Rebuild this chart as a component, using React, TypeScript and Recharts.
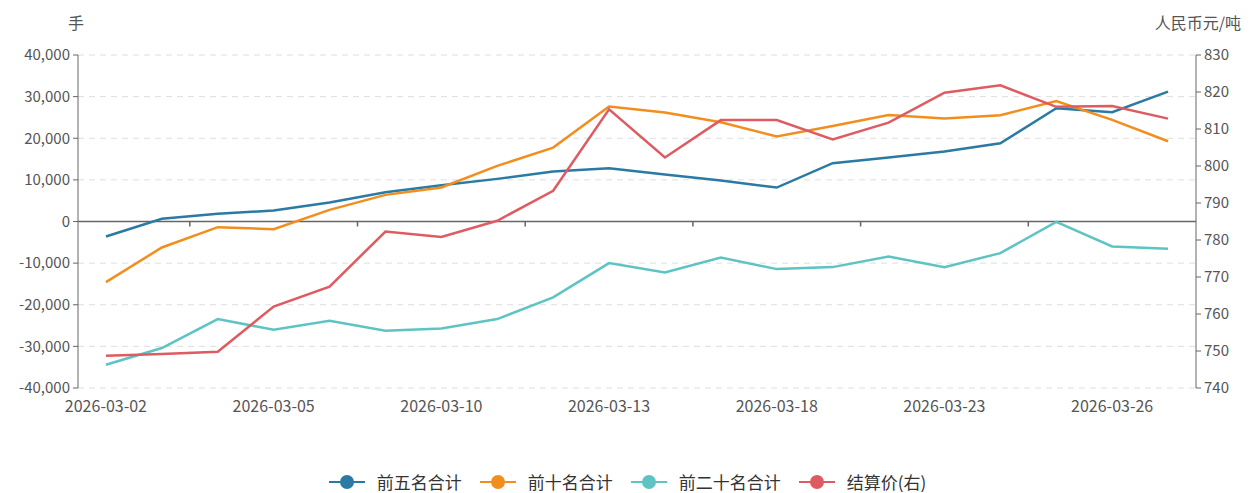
import React from 'react';
import {
  ComposedChart, Line, XAxis, YAxis, CartesianGrid, ReferenceLine,
} from 'recharts';

const dates = [
  '2026-03-02', '2026-03-03', '2026-03-04', '2026-03-05', '2026-03-06',
  '2026-03-09', '2026-03-10', '2026-03-11', '2026-03-12', '2026-03-13',
  '2026-03-16', '2026-03-17', '2026-03-18', '2026-03-19', '2026-03-20',
  '2026-03-23', '2026-03-24', '2026-03-25', '2026-03-26', '2026-03-27',
];
const top5 = [-3600, 640, 1840, 2640, 4560, 7040, 8720, 10240, 12000, 12800,
  11300, 9860, 8160, 14000, 15360, 16800, 18800, 27200, 26240, 31200];
const top10 = [-14560, -6240, -1360, -1840, 2800, 6400, 8160, 13360, 17760, 27600,
  26160, 23840, 20400, 22960, 25600, 24720, 25520, 28960, 24400, 19280];
const top20 = [-34400, -30400, -23440, -26000, -23840, -26240, -25680, -23440, -18240, -10000,
  -12240, -8640, -11440, -10960, -8400, -10960, -7600, -100, -6000, -6560];
const settle = [748.7, 749.2, 749.8, 762.0, 767.4, 782.3, 780.8, 785.2, 793.3, 815.3,
  802.3, 812.4, 812.4, 807.2, 811.7, 819.8, 821.8, 816.0, 816.2, 812.8];

const leftTicks = [-40000, -30000, -20000, -10000, 0, 10000, 20000, 30000, 40000];
const rightTicks = [740, 750, 760, 770, 780, 790, 800, 810, 820, 830];
// indexes of the dates that carry a label
const labelIdx = [0, 3, 6, 9, 12, 15, 18];
// category-boundary positions of the x-axis tick marks drawn on the zero line
const zeroLineTicks = [1.5, 4.5, 7.5, 10.5, 13.5, 16.5];

const seriesNames = ['前五名合计', '前十名合计', '前二十名合计', '结算价(右)'];
const colors = ['#2a7aa4', '#f28e1e', '#5ec3c3', '#df5b62'];

const data = dates.map((d, i) => ({
  idx: i, date: d, top5: top5[i], top10: top10[i], top20: top20[i], settle: settle[i],
}));

const FONT = '"Noto Sans CJK SC", "Noto Sans", sans-serif';
const TXT = '#555';

const fmt = (v: number) => v.toLocaleString('en-US');

// short tick mark hanging below the zero line (left domain is symmetric, so zero is mid-height)
const ZeroTick = (props: any) => {
  const x = props.x1 ?? props.x;
  const yTop = Math.min(props.y1, props.y2);
  const yBot = Math.max(props.y1, props.y2);
  const mid = (yTop + yBot) / 2;
  if (x == null || isNaN(mid)) return null;
  return <line x1={x} x2={x} y1={mid} y2={mid + 5} stroke="#666" strokeWidth={1.5} />;
};

export default function App() {
  return (
    <div style={{ position: 'absolute', left: 0, top: 0, width: 1255, height: 493, fontFamily: FONT, background: '#fff' }}>
      <ComposedChart width={1255} height={493} data={data}
        margin={{ top: 55, right: 0, bottom: 0, left: 0 }}>
        <CartesianGrid yAxisId="left" vertical={false} stroke="#dedede" strokeDasharray="6 5" />
        <XAxis dataKey="idx" type="number" domain={[-0.5, 19.5]} ticks={labelIdx} interval={0}
          tickFormatter={(v: number) => dates[v] ?? ''}
          axisLine={false} tickLine={false} height={105}
          tickMargin={7} tick={{ fill: TXT, fontSize: 16, fontFamily: FONT }} />
        <YAxis yAxisId="left" orientation="left" width={78} domain={[-40000, 40000]} ticks={leftTicks}
          tickFormatter={fmt} interval={0} stroke="#666" tickSize={5} tickMargin={3}
          tick={{ fill: TXT, fontSize: 15, fontFamily: FONT }} />
        <YAxis yAxisId="right" orientation="right" width={59} domain={[740, 830]} ticks={rightTicks}
          interval={0} stroke="#666" tickSize={5} tickMargin={3}
          tick={{ fill: TXT, fontSize: 15, fontFamily: FONT }} />
        <ReferenceLine yAxisId="left" y={0} stroke="#666" strokeWidth={1.5} />
        {zeroLineTicks.map((t) => (
          <ReferenceLine key={t} yAxisId="left" x={t} stroke="#666" shape={ZeroTick} />
        ))}
        <Line yAxisId="left" dataKey="top5" name={seriesNames[0]} stroke={colors[0]} strokeWidth={2.5} dot={false} isAnimationActive={false} />
        <Line yAxisId="left" dataKey="top10" name={seriesNames[1]} stroke={colors[1]} strokeWidth={2.5} dot={false} isAnimationActive={false} />
        <Line yAxisId="left" dataKey="top20" name={seriesNames[2]} stroke={colors[2]} strokeWidth={2.5} dot={false} isAnimationActive={false} />
        <Line yAxisId="right" dataKey="settle" name={seriesNames[3]} stroke={colors[3]} strokeWidth={2.5} dot={false} isAnimationActive={false} />
      </ComposedChart>
      <div style={{ position: 'absolute', left: 68, top: 10, fontSize: 16, color: TXT }}>手</div>
      <div style={{ position: 'absolute', right: 14, top: 10, fontSize: 16, color: TXT }}>人民币元/吨</div>
      <div style={{ position: 'absolute', left: 0, top: 469, width: 1255, display: 'flex', justifyContent: 'center', gap: 18, fontSize: 17, color: '#333' }}>
        {seriesNames.map((n, i) => (
          <div key={n} style={{ display: 'flex', alignItems: 'center', gap: 12 }}>
            <svg width={36} height={16}>
              <line x1={0} y1={8} x2={36} y2={8} stroke={colors[i]} strokeWidth={2} />
              <circle cx={18} cy={8} r={7} fill={colors[i]} />
            </svg>
            <span>{n}</span>
          </div>
        ))}
      </div>
    </div>
  );
}
